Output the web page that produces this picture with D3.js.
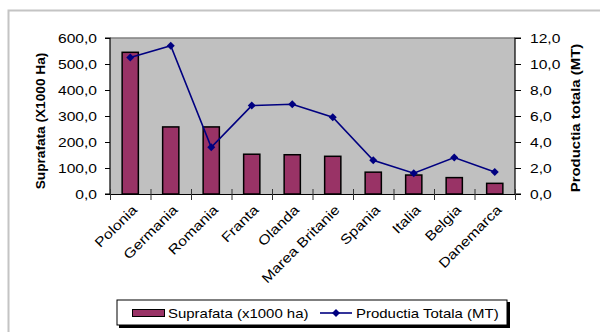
<!DOCTYPE html>
<html>
<head>
<meta charset="utf-8">
<script src="https://cdn.jsdelivr.net/npm/d3@7"></script>
<style>
	html, body { margin:0; padding:0; background:#fff; }
	svg { display:block; }
	text { font-family:"Liberation Sans", Arial, sans-serif; fill:#000; }
</style>
</head>
<body>
<svg id="chart" width="600" height="332"></svg>
<script>
// Data
const categories = ['Polonia','Germania','Romania','Franta','Olanda','Marea Britanie','Spania','Italia','Belgia','Danemarca'];
const suprafata = [545, 258, 258, 153, 151, 145, 84, 73, 63, 41];
const productia = [10.5, 11.4, 3.6, 6.8, 6.9, 5.9, 2.6, 1.6, 2.8, 1.7];
const leftTicks = [0, 100, 200, 300, 400, 500, 600];
const rightTicks = [0, 2, 4, 6, 8, 10, 12];
const barLabel = 'Suprafata (x1000 ha)';
const lineLabel = 'Productia Totala (MT)';
const leftTitle = 'Suprafata (X1000 Ha)';
const rightTitle = 'Productia totala (MT)';

const svg = d3.select('#chart');
const W = +svg.attr('width');
const H = +svg.attr('height');

const plot = {left:110, right:515, top:38, bottom:194};
const fmt = d => d3.format('.1f')(d).replace('.', ',');

// stretch text horizontally like the original (wide rendering)
function stretch(sel, k) {
	sel.each(function() {
		const w = this.getComputedTextLength();
		d3.select(this).attr('textLength', w*k).attr('lengthAdjust','spacingAndGlyphs');
	});
}

// outer frame
svg.append('path')
	.attr('d', `M8.5,${H} V10.5 H${W}`)
	.attr('fill','none')
	.attr('stroke','#c4c4c4')
	.attr('stroke-width',2);

const x = d3.scaleBand()
	.domain(categories)
	.range([plot.left, plot.right])
	.paddingInner(0.6)
	.paddingOuter(0.3);
const xEdge = d3.scaleLinear().domain([0, categories.length]).range([plot.left, plot.right]);
const yL = d3.scaleLinear().domain([0, 600]).range([plot.bottom, plot.top]);
const yR = d3.scaleLinear().domain([0, 12]).range([plot.bottom, plot.top]);

// plot area
svg.append('rect')
	.attr('x', plot.left).attr('y', plot.top)
	.attr('width', plot.right-plot.left).attr('height', plot.bottom-plot.top)
	.attr('fill','#c0c0c0');
svg.append('line')
	.attr('x1', plot.left).attr('x2', plot.right)
	.attr('y1', plot.top).attr('y2', plot.top)
	.attr('stroke','#808080').attr('stroke-width',1.5);

// bars
svg.append('g').selectAll('rect').data(categories).enter().append('rect')
	.attr('x', d => x(d))
	.attr('y', (d,i) => yL(suprafata[i]))
	.attr('width', x.bandwidth())
	.attr('height', (d,i) => plot.bottom - yL(suprafata[i]))
	.attr('fill','#993366')
	.attr('stroke','#000')
	.attr('stroke-width',1.5);

// axes
const axL = svg.append('g')
	.attr('transform',`translate(${plot.left},0)`)
	.call(d3.axisLeft(yL).tickValues(leftTicks).tickSize(5).tickPadding(8).tickFormat(fmt));
const axR = svg.append('g')
	.attr('transform',`translate(${plot.right},0)`)
	.call(d3.axisRight(yR).tickValues(rightTicks).tickSize(6).tickPadding(9).tickFormat(fmt));
const axB = svg.append('g')
	.attr('transform',`translate(0,${plot.bottom})`)
	.call(d3.axisBottom(xEdge).tickValues(d3.range(categories.length+1)).tickSizeInner(6).tickSizeOuter(0).tickFormat(''));
axB.selectAll('.tick line').attr('y1',-5).attr('stroke','#333');

[axL, axR, axB].forEach(a => {
	a.select('.domain').attr('stroke','#000').attr('stroke-width',1.2);
	a.selectAll('.tick line').attr('stroke-width',1);
	a.selectAll('text').style('font-size','13px').attr('fill','#000');
});
axL.select('.domain').attr('d', `M-5,${plot.top}H0V${plot.bottom}H-5`);
axR.select('.domain').attr('d', `M6,${plot.top}H0V${plot.bottom}H6`);
stretch(axL.selectAll('text'), 1.2);
stretch(axR.selectAll('text'), 1.2);

// category labels
const lab = svg.append('g').selectAll('text').data(categories).enter().append('text')
	.attr('transform', d => `translate(${x(d)+x.bandwidth()/2+1},${plot.bottom+10}) rotate(-45)`)
	.attr('text-anchor','end')
	.attr('dy','0.7em')
	.style('font-size','13.5px')
	.text(d => d);
stretch(lab, 1.18);

// line series
const line = d3.line()
	.x((d,i) => x(categories[i]) + x.bandwidth()/2)
	.y(d => yR(d));
svg.append('path')
	.attr('d', line(productia))
	.attr('fill','none')
	.attr('stroke','#000080')
	.attr('stroke-width',1.6);
const diamond = d3.symbol(d3.symbolSquare, 32);
svg.append('g').selectAll('path').data(productia).enter().append('path')
	.attr('d', diamond)
	.attr('transform', (d,i) => `translate(${x(categories[i]) + x.bandwidth()/2},${yR(d)}) rotate(45)`)
	.attr('fill','#000080');

// axis titles
const tL = svg.append('text')
	.attr('transform',`translate(45,${(plot.top+plot.bottom)/2+5}) rotate(-90)`)
	.attr('text-anchor','middle')
	.style('font-size','13px').style('font-weight','bold')
	.text(leftTitle);
stretch(tL, 1.05);
const tR = svg.append('text')
	.attr('transform',`translate(580,${(plot.top+plot.bottom)/2+2}) rotate(-90)`)
	.attr('text-anchor','middle')
	.style('font-size','13px').style('font-weight','bold')
	.text(rightTitle);
stretch(tR, 1.15);

// legend
const lg = svg.append('g').attr('transform','translate(117,300)');
lg.append('rect').attr('x',2).attr('y',2).attr('width',391).attr('height',26).attr('fill','#000');
lg.append('rect').attr('x',0).attr('y',0).attr('width',390).attr('height',25)
	.attr('fill','#fff').attr('stroke','#000').attr('stroke-width',1);
lg.append('rect').attr('x',15.5).attr('y',9.5).attr('width',32).attr('height',7)
	.attr('fill','#993366').attr('stroke','#000').attr('stroke-width',1);
const lt1 = lg.append('text').attr('x',51).attr('y',17.5).style('font-size','13px').text(barLabel);
stretch(lt1, 1.15);
lg.append('line').attr('x1',203).attr('x2',235).attr('y1',13).attr('y2',13)
	.attr('stroke','#000080').attr('stroke-width',1.6);
lg.append('path').attr('d', diamond).attr('transform','translate(219,13) rotate(45)').attr('fill','#000080');
const lt2 = lg.append('text').attr('x',239).attr('y',17.5).style('font-size','13px').text(lineLabel);
stretch(lt2, 1.15);
</script>
</body>
</html>
